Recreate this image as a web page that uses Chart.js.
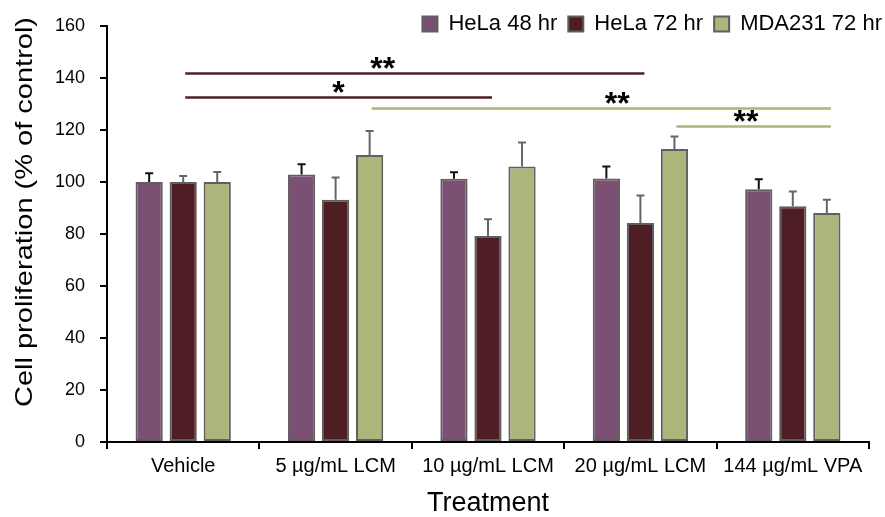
<!DOCTYPE html>
<html>
<head>
<meta charset="utf-8">
<script src="https://cdn.jsdelivr.net/npm/chart.js@4.4.1/dist/chart.umd.min.js"></script>
<style>
  html, body { margin: 0; padding: 0; background: #ffffff; }
  #wrap { width: 885px; height: 517px; }
</style>
</head>
<body>
<div id="wrap"><canvas id="chart" width="885" height="517"></canvas></div>
<script>
// données
const categories = ["Vehicle", "5 µg/mL LCM", "10 µg/mL LCM", "20 µg/mL LCM", "144 µg/mL VPA"];
const seriesNames = ["HeLa 48 hr", "HeLa 72 hr", "MDA231 72 hr"];
const hela48 = [100, 102.8, 101.2, 101.3, 97.2];
const hela72 = [100, 93.1, 79.2, 84.2, 90.6];
const mda72 = [100, 110.3, 105.9, 112.6, 88.0];
const hela48Err = [3.3, 4.0, 2.5, 4.6, 3.8];
const hela72Err = [2.3, 8.6, 6.4, 10.6, 5.7];
const mda72Err = [3.8, 9.3, 9.2, 4.8, 5.1];
const yTicks = [0, 20, 40, 60, 80, 100, 120, 140, 160];
const yTitle = "Cell proliferation (% of control)";

// significativité : [dataset, catégorie] -> [dataset, catégorie], hauteur y
const sigBrackets = [
  { from: [1, 0], to: [1, 3], y: 142, label: "**", at: 0.43, color: "#4F1E25" },
  { from: [1, 0], to: [1, 2], y: 132.8, label: "*", at: 0.5, color: "#4F1E25" },
  { from: [2, 1], to: [2, 4], y: 128.5, label: "**", at: 0.535, color: "#ADB57B" },
  { from: [2, 3], to: [2, 4], y: 121.3, label: "**", at: 0.45, color: "#ADB57B" }
];

const colors = ["#7B5073", "#4F1E25", "#ADB57B"];
const errColors = ["#111111", "#666666", "#666666"];
const errors = [hela48Err, hela72Err, mda72Err];

// barres d'erreur (vers le haut seulement)
const errorBarPlugin = {
  id: "errorBars",
  afterDatasetsDraw(chart) {
    const ctx = chart.ctx;
    const yScale = chart.scales.y;
    ctx.save();
    chart.data.datasets.forEach((ds, di) => {
      const meta = chart.getDatasetMeta(di);
      meta.data.forEach((bar, i) => {
        const top = yScale.getPixelForValue(ds.data[i] + errors[di][i]);
        ctx.strokeStyle = errColors[di];
        ctx.lineWidth = 2;
        ctx.beginPath();
        ctx.moveTo(bar.x, bar.y);
        ctx.lineTo(bar.x, top);
        ctx.moveTo(bar.x - 4, top);
        ctx.lineTo(bar.x + 4, top);
        ctx.stroke();
      });
    });
    ctx.restore();
  }
};

// lignes de significativité
const sigPlugin = {
  id: "sigLines",
  afterDraw(chart) {
    const ctx = chart.ctx;
    const yScale = chart.scales.y;
    ctx.save();
    sigBrackets.forEach(s => {
      const x1 = chart.getDatasetMeta(s.from[0]).data[s.from[1]].x + 2;
      const x2 = chart.getDatasetMeta(s.to[0]).data[s.to[1]].x + 4;
      const y = Math.round(yScale.getPixelForValue(s.y)) + 0.5;
      ctx.strokeStyle = s.color;
      ctx.lineWidth = 2.5;
      ctx.beginPath();
      ctx.moveTo(x1, y);
      ctx.lineTo(x2, y);
      ctx.stroke();
      ctx.fillStyle = "#000000";
      ctx.font = "bold 32px 'Liberation Sans'";
      ctx.textAlign = "center";
      ctx.textBaseline = "alphabetic";
      ctx.fillText(s.label, x1 + (x2 - x1) * s.at, y + 5);
    });
    ctx.restore();
  }
};

// titre de l'axe y, un peu compressé comme sur l'original
const yTitlePlugin = {
  id: "yTitle",
  afterDraw(chart) {
    const ctx = chart.ctx;
    ctx.save();
    ctx.translate(26, 212);
    ctx.rotate(-Math.PI / 2);
    ctx.scale(1, 0.8);
    ctx.fillStyle = "#000000";
    ctx.font = "29px 'Liberation Sans'";
    ctx.textAlign = "center";
    ctx.textBaseline = "middle";
    ctx.fillText(yTitle, 0, 0);
    ctx.restore();
  }
};

// légende : on garde peu de place en haut, puis on élargit sa zone de dessin
const legendFitPlugin = {
  id: "legendFit",
  beforeInit(chart) {
    const origFit = chart.legend.fit;
    chart.legend.fit = function () {
      origFit.bind(chart.legend)();
      this.height = 25;
    };
  },
  afterLayout(chart) {
    const lg = chart.legend;
    lg.top = 2;
    lg.bottom = 47;
    lg.height = 45;
    lg.left = 0;
    lg.right = 893;
    lg.width = 893;
  }
};

const ctx = document.getElementById("chart").getContext("2d");
new Chart(ctx, {
  type: "bar",
  data: {
    labels: categories,
    datasets: [hela48, hela72, mda72].map((vals, i) => ({
      label: seriesNames[i],
      data: vals,
      backgroundColor: colors[i],
      borderColor: "#5f5f5f",
      borderWidth: 2,
      borderSkipped: false,
      barPercentage: 0.8,
      categoryPercentage: 0.67
    }))
  },
  options: {
    responsive: false,
    animation: false,
    layout: { padding: { left: 4, right: 16, top: 0, bottom: 0 } },
    plugins: {
      legend: {
        position: "top",
        align: "end",
        labels: {
          color: "#000000",
          font: { family: "'Liberation Sans'", size: 22 },
          boxWidth: 15,
          boxHeight: 15,
          padding: 11
        }
      },
      tooltip: { enabled: false }
    },
    scales: {
      x: {
        offset: true,
        afterFit(axis) { axis.height = 75; },
        grid: {
          offset: true,
          drawOnChartArea: false,
          color: "#000000",
          tickLength: 7,
          lineWidth: 2
        },
        border: { color: "#000000", width: 2 },
        ticks: {
          color: "#000000",
          font: { family: "'Liberation Sans'", size: 20 },
          padding: 5,
          maxRotation: 0
        },
        title: {
          display: true,
          text: "Treatment",
          color: "#000000",
          font: { family: "'Liberation Sans'", size: 27 },
          padding: { top: 0, bottom: -3 }
        }
      },
      y: {
        min: 0,
        max: 160,
        afterFit(axis) { axis.width = 103; },
        afterBuildTicks(axis) {
          axis.ticks = yTicks.map(v => ({ value: v }));
        },
        grid: {
          drawOnChartArea: false,
          color: "#000000",
          tickLength: 7,
          lineWidth: 2
        },
        border: { color: "#000000", width: 2 },
        ticks: {
          color: "#000000",
          font: { family: "'Liberation Sans'", size: 18 },
          padding: 15
        }
      }
    }
  },
  plugins: [errorBarPlugin, sigPlugin, yTitlePlugin, legendFitPlugin]
});
</script>
</body>
</html>
